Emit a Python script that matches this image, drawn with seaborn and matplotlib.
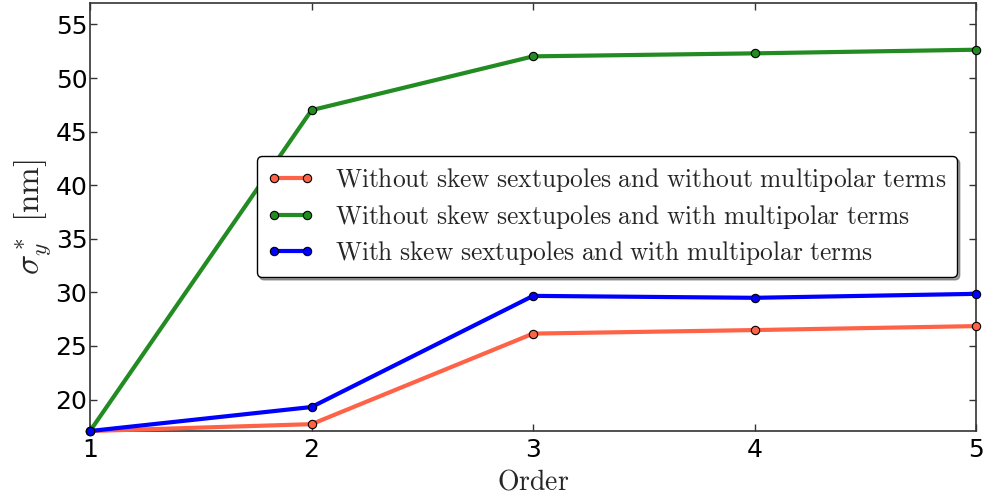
import matplotlib
matplotlib.use("Agg")
import matplotlib.pyplot as plt
import seaborn as sns
import pandas as pd

orders = [1, 2, 3, 4, 5]
no_skew_no_multi = [17.06, 17.7, 26.15, 26.48, 26.85]
no_skew_multi = [17.06, 47.0, 52.02, 52.3, 52.64]
skew_multi = [17.06, 19.3, 29.67, 29.49, 29.86]

labels = [
    r"$\mathrm{Without\ skew\ sextupoles\ and\ without\ multipolar\ terms}$",
    r"$\mathrm{Without\ skew\ sextupoles\ and\ with\ multipolar\ terms}$",
    r"$\mathrm{With\ skew\ sextupoles\ and\ with\ multipolar\ terms}$",
]
colors = ["tomato", "forestgreen", "blue"]
series = [no_skew_no_multi, no_skew_multi, skew_multi]

sns.set_style("ticks")
plt.rcParams["font.family"] = ["DejaVu Sans"]
plt.rcParams["mathtext.fontset"] = "cm"

fig = plt.figure(figsize=(9.84, 4.98), dpi=100)
ax = fig.add_axes([0.0915, 0.1345, 0.9005, 0.8595])

for vals, lab, col in zip(series, labels, colors):
    df = pd.DataFrame({"Order": orders, "sigma": vals})
    sns.lineplot(data=df, x="Order", y="sigma", ax=ax, color=col, lw=3,
                 marker="o", markersize=6, markeredgecolor="black",
                 markeredgewidth=0.8, label=lab, clip_on=False, zorder=3)

ax.set_xlim(1, 5)
ax.set_ylim(17.06, 57)
ax.set_xticks(orders)
ax.set_yticks([20, 25, 30, 35, 40, 45, 50, 55])
ax.tick_params(direction="in", top=True, right=True, labelsize=18, length=5,
               width=1, labelcolor="black", color="#333333")
ax.tick_params(axis="y", pad=2)
ax.tick_params(axis="x", pad=5)
for s in ax.spines.values():
    s.set_color("#333333")
    s.set_linewidth(1.2)

ax.set_xlabel(r"$\mathrm{Order}$", fontsize=20, labelpad=4)
ax.set_ylabel(r"$\sigma_y^*\ [\mathrm{nm}]$", fontsize=24, labelpad=2)

leg = ax.legend(loc="upper left", bbox_to_anchor=(0.188, 0.6425),
                borderaxespad=0, fontsize=18.3, fancybox=True, shadow=True,
                frameon=True, framealpha=1, edgecolor="black",
                handlelength=1.9, handletextpad=0.8, labelspacing=0.33,
                numpoints=2)
leg.get_frame().set_linewidth(1.0)
leg.set_zorder(5)

fig.savefig("out.png", dpi=100)
